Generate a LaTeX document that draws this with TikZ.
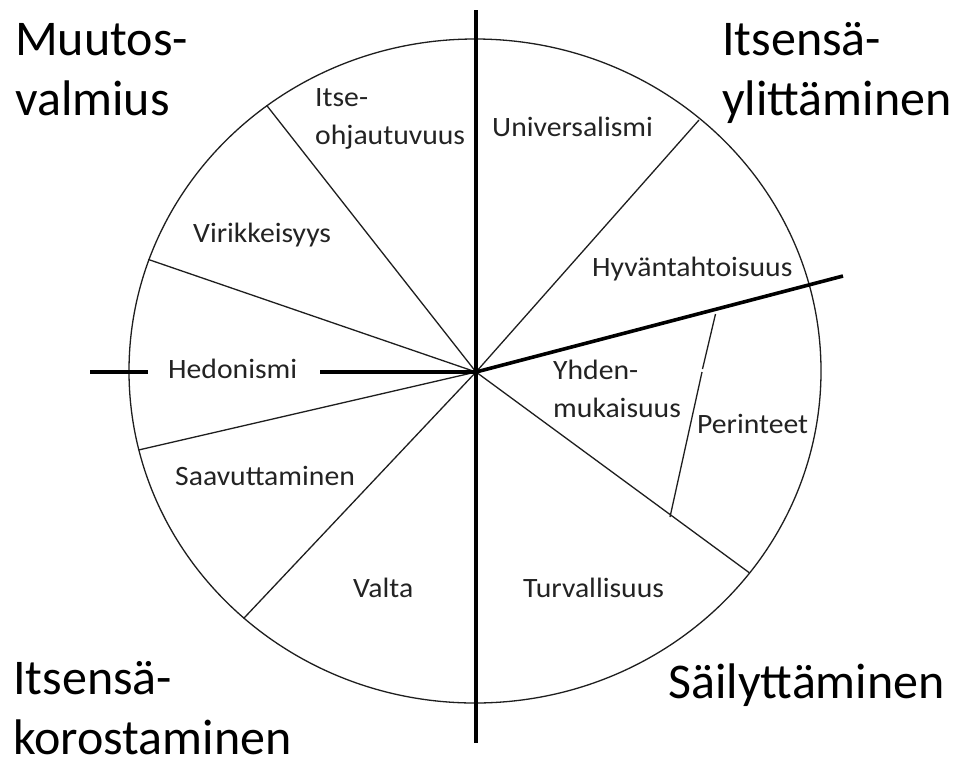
\documentclass[tikz,border=0pt]{standalone}
\usepackage{fontspec}
\setmainfont{Carlito}
\newfontfamily\lblfont[FakeStretch=1.06]{Carlito}
\begin{document}
\begin{tikzpicture}[x=1pt,y=-1pt,
  thinline/.style={line width=1.3pt,draw={rgb,255:red,30;green,30;blue,30}},
  thickline/.style={line width=3.6pt,draw=black},
  biglabel/.style={inner sep=0pt,anchor=base west,align=left,text=black,font=\fontsize{50}{60}\selectfont},
  smalllabel/.style={inner sep=0pt,anchor=base west,align=left,text={rgb,255:red,35;green,35;blue,35},font=\lblfont\fontsize{28}{38}\selectfont}]
\path[use as bounding box,fill=white] (0,0) rectangle (957,761);
% centre and points
\coordinate (O) at (476,372);
\coordinate (EC) at (475,371);
\coordinate (p1) at (266.7,105.4);
\coordinate (p2) at (148.2,259.4);
\coordinate (p3) at (139,449.9);
\coordinate (p4) at (243.6,618.5);
\coordinate (p5) at (699,120);
\coordinate (p6) at (749,572.5);
\coordinate (tr) at (843,276);
\coordinate (vt) at (476,10);
\coordinate (vb) at (476,743);
\coordinate (hl1) at (90,372);
\coordinate (hl2) at (148,372);
\coordinate (hl3) at (320,372);
\coordinate (pa) at (715.5,314);
\coordinate (pb) at (702.5,369);
\coordinate (pc) at (702,372);
\coordinate (pd) at (670,517);
% circle
\draw[thinline] (EC) ellipse [x radius=346pt, y radius=332pt];
% thin spokes
\draw[thinline] (O) -- (p1);
\draw[thinline] (O) -- (p2);
\draw[thinline] (O) -- (p3);
\draw[thinline] (O) -- (p4);
\draw[thinline] (O) -- (p5);
\draw[thinline] (O) -- (p6);
\draw[thinline] (pa) -- (pb);
\draw[thinline] (pc) -- (pd);
% thick lines
\draw[thickline] (vt) -- (vb);
\draw[thickline] (O) -- (tr);
\draw[thickline] (hl1) -- (hl2);
\draw[thickline] (hl3) -- (O);
% big labels (anchor = baseline of last line)
\node[biglabel] (muutos) at (15,115) {Muutos-\\valmius};
\node[biglabel] (ylitt) at (722,115) {Itsensä-\\ylittäminen};
\node[biglabel] (koros) at (13,754) {Itsensä-\\korostaminen};
\node[biglabel] (sailyt) at (668,698) {Säilyttäminen};
% small labels
\node[smalllabel] (itse) at (315,144) {Itse-\\ohjautuvuus};
\node[smalllabel] (univ) at (492,136) {Universalismi};
\node[smalllabel] (virik) at (193,242) {Virikkeisyys};
\node[smalllabel] (hyvan) at (592,276) {Hyväntahtoisuus};
\node[smalllabel] (hedon) at (168,378) {Hedonismi};
\node[smalllabel] (yhden) at (553,417) {Yhden-\\mukaisuus};
\node[smalllabel] (perin) at (697,433) {Perinteet};
\node[smalllabel] (saav) at (175,485) {Saavuttaminen};
\node[smalllabel] (valta) at (353,597) {Valta};
\node[smalllabel] (turva) at (523,597) {Turvallisuus};
\end{tikzpicture}
\end{document}
